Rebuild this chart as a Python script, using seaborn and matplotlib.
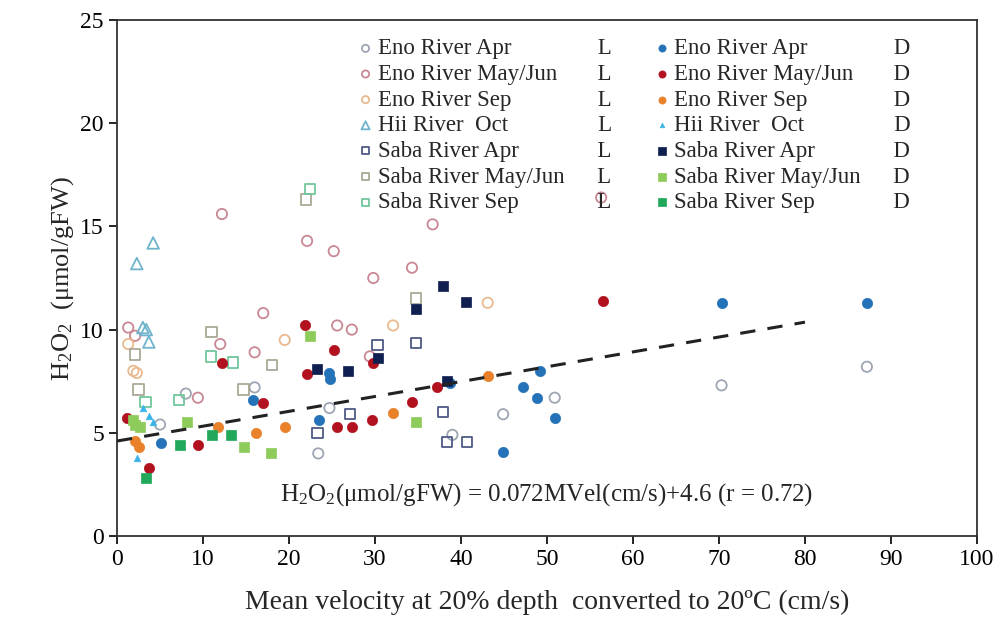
import matplotlib
matplotlib.use("Agg")
import matplotlib.pyplot as plt
import seaborn as sns
import numpy as np
import pandas as pd

# ---------------- data ----------------
eno_apr_L_x = [70.3, 87.2, 44.9, 50.9, 39.0, 23.4, 24.7, 16.0, 5.0, 8.0]
eno_apr_L_y = [7.3, 8.2, 5.9, 6.7, 4.9, 4.0, 6.2, 7.2, 5.4, 6.9]

eno_mj_L_x = [12.2, 22.1, 25.2, 36.7, 56.3, 17.0, 29.8, 34.3, 25.6, 27.3, 29.4, 1.3, 2.1, 12.0, 16.0, 9.4]
eno_mj_L_y = [15.6, 14.3, 13.8, 15.1, 16.4, 10.8, 12.5, 13.0, 10.2, 10.0, 8.7, 10.1, 9.7, 9.3, 8.9, 6.7]

eno_sep_L_x = [1.3, 1.9, 2.3, 19.5, 32.1, 43.1]
eno_sep_L_y = [9.3, 8.0, 7.9, 9.5, 10.2, 11.3]

hii_oct_L_x = [2.3, 4.2, 3.0, 3.4, 3.7]
hii_oct_L_y = [13.2, 14.2, 10.1, 10.0, 9.4]

saba_apr_L_x = [23.3, 27.1, 30.3, 34.8, 37.9, 38.4, 40.7]
saba_apr_L_y = [5.0, 5.9, 9.25, 9.35, 6.0, 4.55, 4.55]

saba_mj_L_x = [2.1, 2.5, 11.0, 14.7, 18.0, 34.8, 22.0]
saba_mj_L_y = [8.8, 7.1, 9.9, 7.1, 8.3, 11.5, 16.3]

saba_sep_L_x = [22.4, 3.3, 7.2, 10.9, 13.5]
saba_sep_L_y = [16.8, 6.5, 6.6, 8.7, 8.4]

eno_apr_D_x = [70.3, 87.2, 49.2, 47.2, 48.8, 50.9, 44.9, 38.7, 24.7, 24.8, 23.5, 15.8, 5.1]
eno_apr_D_y = [11.3, 11.3, 8.0, 7.2, 6.7, 5.7, 4.05, 7.4, 7.9, 7.6, 5.6, 6.6, 4.5]

eno_mj_D_x = [56.5, 21.9, 25.2, 22.1, 29.8, 37.2, 34.3, 29.7, 27.3, 25.6, 17.0, 12.2, 9.4, 3.7, 1.2]
eno_mj_D_y = [11.4, 10.2, 9.0, 7.85, 8.4, 7.2, 6.5, 5.6, 5.3, 5.3, 6.45, 8.4, 4.4, 3.3, 5.7]

eno_sep_D_x = [2.1, 2.5, 11.7, 16.2, 19.5, 32.1, 43.1]
eno_sep_D_y = [4.6, 4.3, 5.3, 5.0, 5.3, 5.95, 7.75]

hii_oct_D_x = [3.0, 3.7, 2.3, 4.2]
hii_oct_D_y = [6.2, 5.8, 3.8, 5.5]

saba_apr_D_x = [23.2, 26.9, 30.3, 34.8, 37.9, 40.6, 38.4]
saba_apr_D_y = [8.1, 8.0, 8.6, 11.0, 12.1, 11.35, 7.5]

saba_mj_D_x = [2.1, 2.7, 8.1, 14.8, 17.9, 22.4, 34.8, 1.8]
saba_mj_D_y = [5.4, 5.3, 5.5, 4.3, 4.0, 9.7, 5.5, 5.6]

saba_sep_D_x = [3.4, 7.3, 11.0, 13.3]
saba_sep_D_y = [2.8, 4.4, 4.9, 4.9]

fit_x = [0, 80]
fit_slope = 0.072
fit_intercept = 4.6

names = ["Eno River Apr", "Eno River May/Jun", "Eno River Sep", "Hii River  Oct",
         "Saba River Apr", "Saba River May/Jun", "Saba River Sep"]

x_ticks = [0, 10, 20, 30, 40, 50, 60, 70, 80, 90, 100]
y_ticks = [0, 5, 10, 15, 20, 25]

# ---------------- styling ----------------
sns.set_theme(style="white")
plt.rcParams['font.family'] = ['Liberation Serif', 'DejaVu Serif']
plt.rcParams['mathtext.fontset'] = 'custom'
plt.rcParams['mathtext.rm'] = 'Liberation Serif'
plt.rcParams['mathtext.it'] = 'Liberation Serif:italic'

fig = plt.figure(figsize=(10.02, 6.26), dpi=100)
ax = fig.add_axes([0.1168, 0.1438, 0.8582, 0.8242])

L_series = [
    (eno_apr_L_x, eno_apr_L_y, "o", "#9ea6b3", 55),
    (eno_mj_L_x, eno_mj_L_y, "o", "#c98893", 55),
    (eno_sep_L_x, eno_sep_L_y, "o", "#e9b98f", 55),
    (hii_oct_L_x, hii_oct_L_y, "^", "#6fb3cc", 70),
    (saba_apr_L_x, saba_apr_L_y, "s", "#4f5a86", 55),
    (saba_mj_L_x, saba_mj_L_y, "s", "#aaa894", 55),
    (saba_sep_L_x, saba_sep_L_y, "s", "#6fc79c", 55),
]
D_series = [
    (eno_apr_D_x, eno_apr_D_y, "o", "#2472b8", 55),
    (eno_mj_D_x, eno_mj_D_y, "o", "#b2121f", 55),
    (eno_sep_D_x, eno_sep_D_y, "o", "#e8812a", 55),
    (hii_oct_D_x, hii_oct_D_y, "^", "#3bb3e8", 22),
    (saba_apr_D_x, saba_apr_D_y, "s", "#0e1f50", 55),
    (saba_mj_D_x, saba_mj_D_y, "s", "#8dcb5a", 55),
    (saba_sep_D_x, saba_sep_D_y, "s", "#22a85a", 55),
]

handles = []
for (xs, ys, m, c, s) in L_series:
    sns.scatterplot(x=xs, y=ys, marker=m, s=s, facecolor="none", edgecolor=c,
                    linewidth=1.3, ax=ax, zorder=3)
    handles.append(ax.collections[-1])
for (xs, ys, m, c, s) in D_series:
    sns.scatterplot(x=xs, y=ys, marker=m, s=s, color=c, edgecolor=c,
                    linewidth=0.5, ax=ax, zorder=4)
    handles.append(ax.collections[-1])

fit_y = [fit_slope * v + fit_intercept for v in fit_x]
sns.lineplot(x=fit_x, y=fit_y, ax=ax, color="#222222", linewidth=2.2,
             linestyle=(0, (5, 4)), zorder=5)

ax.set_xlim(0, 100)
ax.set_ylim(0, 25)
ax.set_xticks(x_ticks)
ax.set_yticks(y_ticks)
ax.tick_params(axis="both", direction="out", length=6, width=1.2, labelsize=17,
               colors="black", bottom=True, left=True)
for sp in ax.spines.values():
    sp.set_color("#333333")
    sp.set_linewidth(1.3)

ax.set_xlabel("Mean velocity at 20% depth  converted to 20ºC (cm/s)", fontsize=20, labelpad=14)
ax.set_ylabel(r"H$_2$O$_2$  (μmol/gFW)", fontsize=19, labelpad=3)

ax.text(0.5, 0.08, r"H$_2$O$_2$(μmol/gFW) = 0.072MVel(cm/s)+4.6 (r = 0.72)",
        transform=ax.transAxes, ha="center", va="center", fontsize=18)

# ---- legend labels with aligned L / D columns ----
from matplotlib.font_manager import FontProperties
fp = FontProperties(family=["Liberation Serif", "DejaVu Serif"], size=16.5)
renderer = fig.canvas.get_renderer()

def tw(s):
    t = fig.text(0, 0, s, fontproperties=fp)
    w = t.get_window_extent(renderer).width
    t.remove()
    return w

space_w = tw("a a") - tw("aa")
hair_w = tw("a\u200aa") - tw("aa")
target = 220.0  # pixel offset of the L/D column from the start of the label
labels = []
for suffix in ["L", "D"]:
    for n in names:
        rem = target - tw(n)
        k = max(1, int(np.floor(rem / space_w)))
        pad = " " * k
        rem -= k * space_w
        if hair_w > 0.5:
            pad += "\u200a" * max(0, int(round(rem / hair_w)))
        labels.append(n + pad + suffix)

leg = ax.legend(handles, labels, ncol=2, loc="upper left", bbox_to_anchor=(0.261, 1.0),
                frameon=False, prop=fp, handlelength=0.5, handletextpad=0.3,
                columnspacing=1.9, labelspacing=0.2, markerscale=0.7, borderaxespad=0.4)

fig.savefig("out.png", dpi=100)
